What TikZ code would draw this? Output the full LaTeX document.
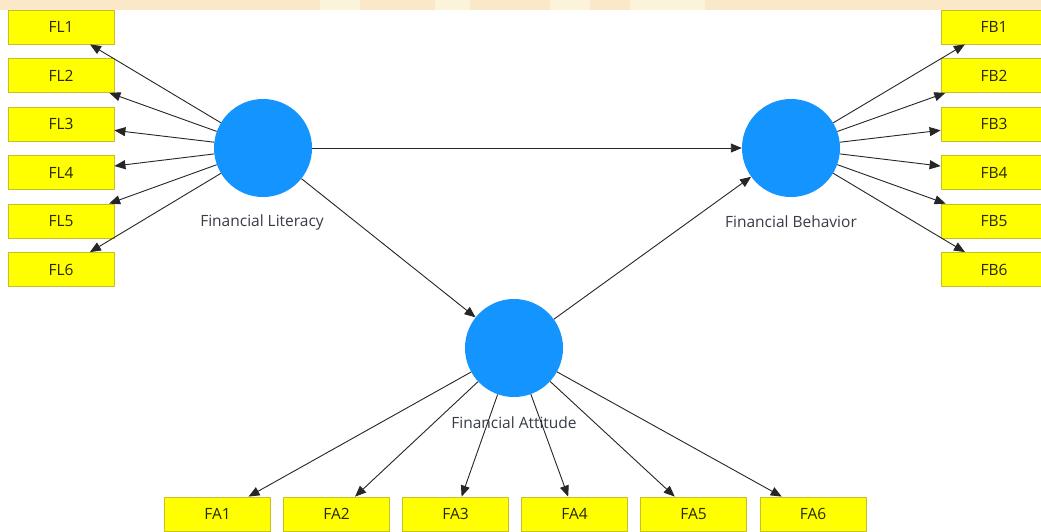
\documentclass[tikz,border=0pt]{standalone}
\usepackage{fontspec}
\setmainfont{Open Sans}
\usetikzlibrary{arrows.meta}
\definecolor{lvblue}{RGB}{20,148,255}
\definecolor{mvyellow}{RGB}{255,255,0}
\definecolor{mvborder}{RGB}{200,190,40}
\definecolor{mvtext}{RGB}{40,40,10}
\definecolor{lbltext}{RGB}{55,60,70}
\definecolor{band}{RGB}{250,232,200}
\definecolor{bandlight}{RGB}{252,244,218}
\tikzset{
  ind/.style={draw=mvborder, line width=0.8pt, fill=mvyellow, minimum width=106pt, minimum height=34pt, inner sep=0pt, text=mvtext, font=\fontsize{15.5}{15.5}\selectfont},
  lv/.style={circle, fill=lvblue, minimum size=98pt, inner sep=0pt},
  lvlabel/.style={text=lbltext, font=\fontsize{15.5}{15.5}\selectfont, inner sep=0pt},
  arr/.style={draw=black!85, line width=0.9pt, -{Triangle[length=11pt,width=9pt]}}
}
\begin{document}
\begin{tikzpicture}[x=1pt,y=-1pt]
\useasboundingbox (0,0) rectangle (1041,531);
\fill[white] (0,0) rectangle (1041,531);
% top background band
\fill[band] (0,0) rectangle (1041,10);
\fill[bandlight] (320,0) rectangle (360,10);
\fill[bandlight] (435,0) rectangle (470,10);
\fill[bandlight] (550,0) rectangle (590,10);
\fill[bandlight] (630,0) rectangle (705,10);

% latent variables
\node[lv] (FL) at (263,148) {};
\node[lv] (FB) at (791,148) {};
\node[lv] (FA) at (514,348) {};
\node[lvlabel] (FLl) at (262,222) {Financial Literacy};
\node[lvlabel] (FBl) at (791,222) {Financial Behavior};
\node[lvlabel] (FAl) at (514,423) {Financial Attitude};

% indicators
\foreach \i/\y in {1/27,2/75.5,3/124,4/172.5,5/221,6/269.5}{
  \node[ind] (FL\i) at (61,\y) {FL\i};
  \node[ind] (FB\i) at (994,\y) {FB\i};
}
\foreach \i/\x in {1/217.5,2/336.5,3/455.5,4/574.5,5/693.5,6/813}{
  \node[ind] (FA\i) at (\x,514) {FA\i};
}

% structural paths
\draw[arr] (FL) -- (FB);
\draw[arr] (FL) -- (FA);
\draw[arr] (FA) -- (FB);

% measurement paths
\foreach \i in {1,...,6}{
  \draw[arr] (FL) -- (FL\i);
  \draw[arr] (FB) -- (FB\i);
  \draw[arr] (FA) -- (FA\i);
}
\end{tikzpicture}
\end{document}
